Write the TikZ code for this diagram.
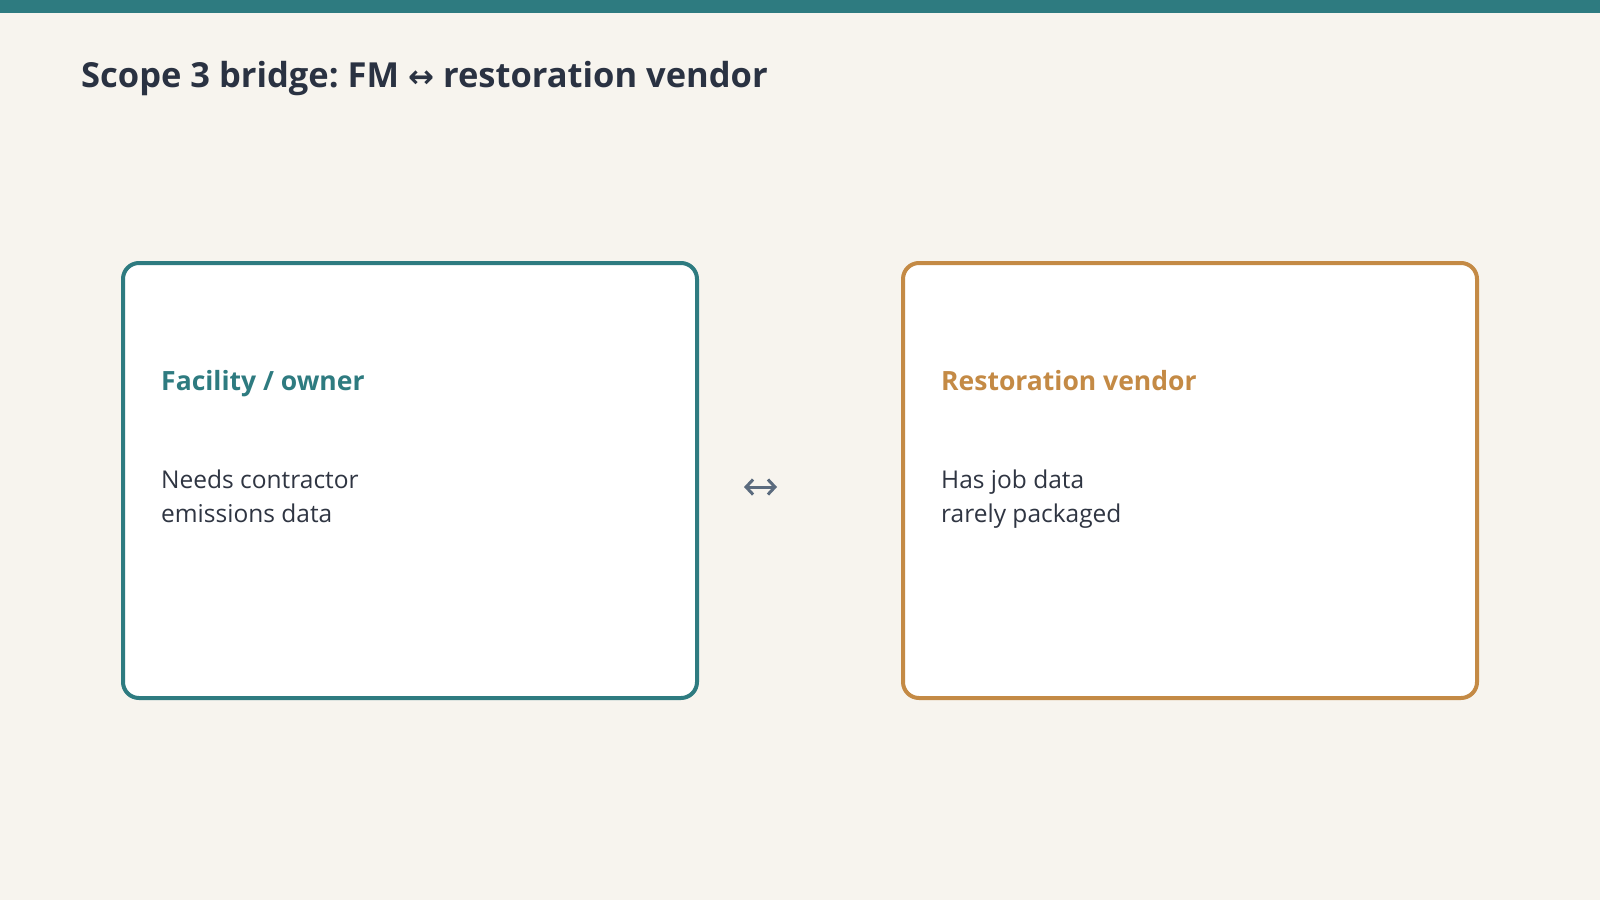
\documentclass[tikz,border=0pt]{standalone}
\usepackage{fontspec}
\setmainfont{Open Sans}
\newfontfamily\symfont{DejaVu Sans}
\usetikzlibrary{arrows.meta}
\definecolor{bgcol}{HTML}{F7F4EE}
\definecolor{tealc}{HTML}{2E7B80}
\definecolor{goldc}{HTML}{C48A45}
\definecolor{titlec}{HTML}{2A3242}
\definecolor{bodyc}{HTML}{2F3542}
\definecolor{arrowc}{HTML}{5B6B7E}
\tikzset{
  card/.style={draw=#1, line width=4pt, fill=white, rounded corners=16pt},
  headtext/.style={anchor=base west, inner sep=0pt, font=\fontsize{26.5}{30}\selectfont\bfseries, text=#1},
  bodytext/.style={anchor=base west, inner sep=0pt, font=\fontsize{24.5}{34}\selectfont, text=bodyc, align=left},
  linkarrow/.style={draw=arrowc, line width=3pt, {Straight Barb[length=7pt,width=15pt,line width=3pt]}-{Straight Barb[length=7pt,width=15pt,line width=3pt]}},
}
\begin{document}
\frenchspacing
\begin{tikzpicture}[x=1pt,y=-1pt]
\useasboundingbox (0,0) rectangle (1600,900);
\fill[bgcol] (0,0) rectangle (1600,900);
\fill[tealc] (0,0) rectangle (1600,13);
\node[anchor=base west, inner sep=0pt, font=\fontsize{34.5}{40}\selectfont\bfseries, text=titlec] (title) at (81,87)
  {Scope 3 bridge: FM {\symfont\fontsize{31}{34}\selectfont ↔} restoration vendor};
\draw[card=tealc] (123,263) rectangle (697,698);
\draw[card=goldc] (903,263) rectangle (1477,698);
\node[headtext=tealc] (lhead) at (161,390) {Facility / owner};
\node[bodytext] (lbody) at (161,522) {Needs contractor\\emissions data};
\node[headtext=goldc] (rhead) at (941,390) {Restoration vendor};
\node[bodytext] (rbody) at (941,522) {Has job data\\rarely packaged};
\coordinate (a1) at (744,487);
\coordinate (a2) at (777,487);
\draw[linkarrow] (a1) -- (a2);
\end{tikzpicture}
\end{document}
